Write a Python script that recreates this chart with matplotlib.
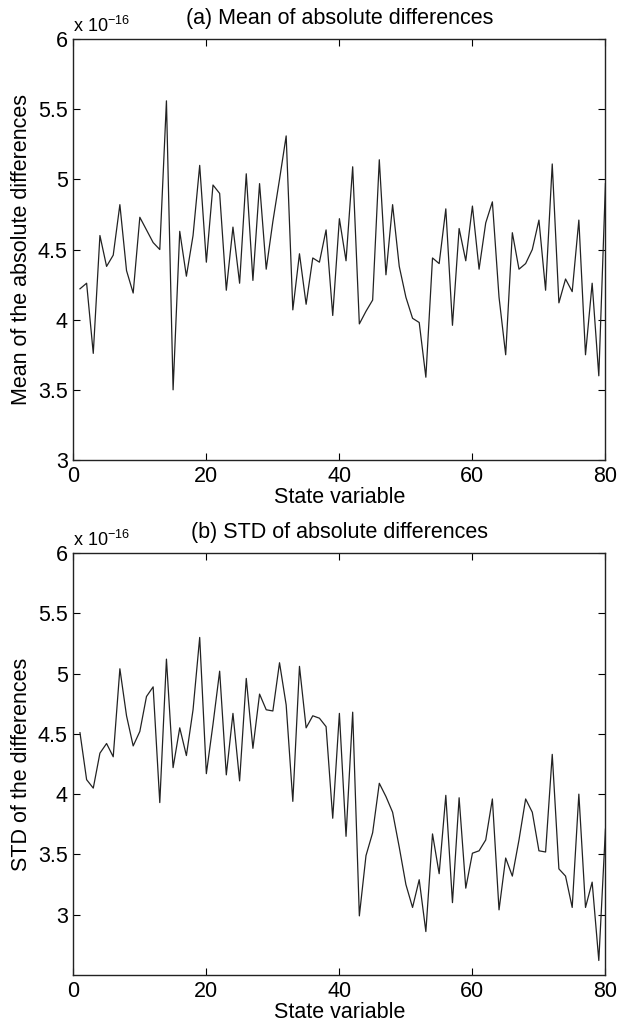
import matplotlib.pyplot as plt
import numpy as np
from matplotlib.ticker import FormatStrFormatter

plt.rcParams['font.family'] = ['Liberation Sans', 'DejaVu Sans']
plt.rcParams['mathtext.fontset'] = 'custom'
plt.rcParams['mathtext.rm'] = 'Liberation Sans'
plt.rcParams['mathtext.it'] = 'Liberation Sans:italic'

state_var = np.arange(1, 81)

# mean of absolute differences (x 1e-16)
mean_diff = [4.22, 4.26, 3.76, 4.60, 4.38, 4.46, 4.82, 4.35, 4.19, 4.73,
             4.64, 4.55, 4.50, 5.56, 3.50, 4.63, 4.31, 4.60, 5.10, 4.41,
             4.96, 4.90, 4.21, 4.66, 4.26, 5.04, 4.28, 4.97, 4.36, 4.70,
             5.00, 5.31, 4.07, 4.47, 4.11, 4.44, 4.41, 4.64, 4.03, 4.72,
             4.42, 5.09, 3.97, 4.06, 4.14, 5.14, 4.32, 4.82, 4.38, 4.16,
             4.01, 3.98, 3.59, 4.44, 4.40, 4.79, 3.96, 4.65, 4.42, 4.81,
             4.36, 4.69, 4.84, 4.16, 3.75, 4.62, 4.36, 4.40, 4.50, 4.71,
             4.21, 5.11, 4.12, 4.29, 4.20, 4.71, 3.75, 4.26, 3.60, 4.97]

# STD of absolute differences (x 1e-16)
std_diff = [4.51, 4.12, 4.05, 4.34, 4.42, 4.31, 5.04, 4.65, 4.40, 4.52,
            4.81, 4.89, 3.93, 5.12, 4.22, 4.55, 4.32, 4.70, 5.30, 4.17,
            4.58, 5.02, 4.16, 4.67, 4.11, 4.96, 4.38, 4.83, 4.70, 4.69,
            5.09, 4.74, 3.94, 5.06, 4.55, 4.65, 4.63, 4.56, 3.80, 4.67,
            3.65, 4.68, 2.99, 3.49, 3.68, 4.09, 3.98, 3.85, 3.56, 3.25,
            3.06, 3.29, 2.86, 3.67, 3.34, 3.99, 3.10, 3.97, 3.22, 3.51,
            3.53, 3.62, 3.96, 3.04, 3.47, 3.32, 3.62, 3.96, 3.85, 3.53,
            3.52, 4.33, 3.38, 3.32, 3.06, 4.00, 3.06, 3.27, 2.62, 3.71]

fs = 15.5

fig = plt.figure(figsize=(6.32, 10.24), dpi=100)
ax1 = fig.add_axes([0.116, 0.5508, 0.842, 0.411])
ax2 = fig.add_axes([0.116, 0.0479, 0.842, 0.412])

panels = [
    (ax1, mean_diff, 3, '(a) Mean of absolute differences', 'Mean of the absolute differences'),
    (ax2, std_diff, 2.5, '(b) STD of absolute differences', 'STD of the differences'),
]

for ax, vals, ymin, title, ylab in panels:
    ax.plot(state_var, vals, color='#222222', linewidth=0.9)
    ax.set_xlim(0, 80)
    ax.set_ylim(ymin, 6)
    ax.set_xticks([0, 20, 40, 60, 80])
    ax.set_yticks(np.arange(3, 6.01, 0.5))
    ax.yaxis.set_major_formatter(FormatStrFormatter('%g'))
    ax.tick_params(direction='in', top=True, right=True, labelsize=fs,
                   length=5, width=0.8, pad=4)
    for s in ax.spines.values():
        s.set_linewidth(1.0)
        s.set_color('#222222')
    ax.set_xlabel('State variable', fontsize=fs, labelpad=0)
    ax.set_ylabel(ylab, fontsize=fs, labelpad=4)
    ax.set_title(title, fontsize=fs, pad=11)
    ax.text(0.0, 1.008, r'x 10$^{\mathrm{-16}}$', transform=ax.transAxes,
            fontsize=13, ha='left', va='bottom')

plt.savefig('out.png', dpi=100)
